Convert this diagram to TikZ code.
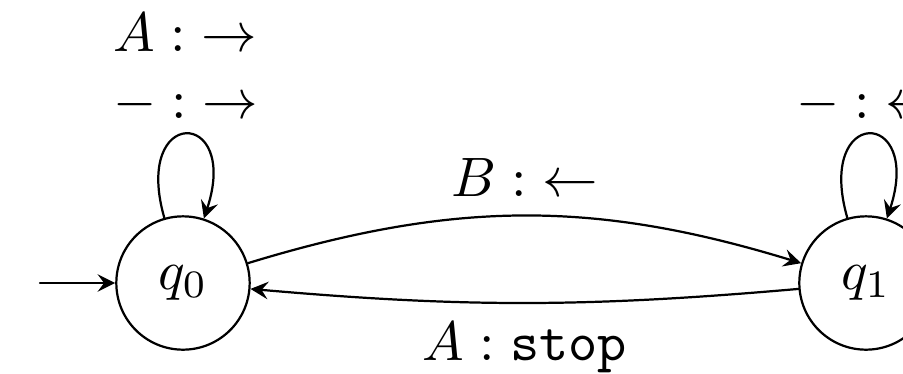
\documentclass[tikz,border=0pt]{standalone}
\begin{document}
\begin{tikzpicture}[x=0.18pt,y=0.18pt,line join=round,line cap=round,>=stealth,
		st/.style={draw,circle,minimum size=24pt,inner sep=0pt}]
	\useasboundingbox (0,0) rectangle (903,373);
	\node[st] (q0) at (183,90) {$q_0$};
	\node[st] (q1) at (866,90) {$q_1$};
	\coordinate (s) at (40,90);
	\draw[->] (s)--(q0);
	\draw[->] (q0) to[out=106,in=72,loop,distance=21pt] node[above,yshift=-1.5pt,align=center] {$A:{\rightarrow}$\\$-:{\rightarrow}$} (q0);
	\draw[->] (q1) to[out=106,in=72,loop,distance=21pt] node[above,yshift=-1.5pt] {$-:{\leftarrow}$} (q1);
	\draw[->] (q0) to[bend left=17] node[above] {$B:{\leftarrow}$} (q1);
	\draw[->] (q1) to[bend left=5] node[below] {$A:\texttt{stop}$} (q0);
\end{tikzpicture}
\end{document}
